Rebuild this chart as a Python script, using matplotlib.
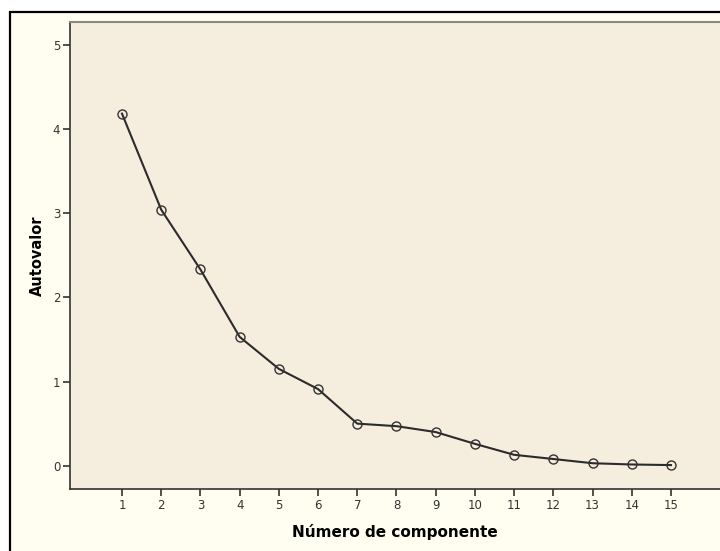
import numpy as np
import matplotlib.pyplot as plt
from matplotlib.patches import Rectangle

componentes = [1, 2, 3, 4, 5, 6, 7, 8, 9, 10, 11, 12, 13, 14, 15]
autovalores = [4.18, 3.04, 2.33, 1.53, 1.15, 0.91, 0.50, 0.47, 0.40, 0.26, 0.13, 0.08, 0.03, 0.015, 0.008]
yticks = [0, 1, 2, 3, 4, 5]

W, H = 720, 551
fig = plt.figure(figsize=(W / 100, H / 100), dpi=100)
fig.patch.set_facecolor('white')

# marco exterior
fig.patches.append(Rectangle((9.5 / W, -0.01), 1.0, 1 - 11.5 / H + 0.01,
                             transform=fig.transFigure, facecolor='#FFFEF0',
                             edgecolor='black', linewidth=1.6, zorder=-5))

left, right, top, bottom = 70, 720, 22, 489
ax = fig.add_axes([left / W, (H - bottom) / H, (right - left) / W, (bottom - top) / H])
ax.set_zorder(1)
ax.set_facecolor('#F5EEDF')

ax.plot(componentes, autovalores, color='#2b2b2b', linewidth=1.5,
        marker='o', markersize=6.5, markerfacecolor='none',
        markeredgecolor='#333333', markeredgewidth=1.0)

ax.set_xlim(-0.326, 16.25)
ax.set_ylim(-0.276, 5.268)
ax.set_xticks(componentes)
ax.set_yticks(yticks)
ax.tick_params(length=5, width=1.2, color='#333333', labelsize=8.5,
               labelcolor='#333333', pad=2)

for s in ['left', 'bottom']:
    ax.spines[s].set_color('#333333')
    ax.spines[s].set_linewidth(1.2)
ax.spines['top'].set_color('#8a8a84')
ax.spines['top'].set_linewidth(1.5)
ax.spines['right'].set_visible(False)

ax.set_xlabel('Número de componente', fontsize=11, fontweight='bold', labelpad=9)
ax.set_ylabel('Autovalor', fontsize=10.5, fontweight='bold', labelpad=6)

plt.savefig('out.png', dpi=100, facecolor=fig.get_facecolor())
